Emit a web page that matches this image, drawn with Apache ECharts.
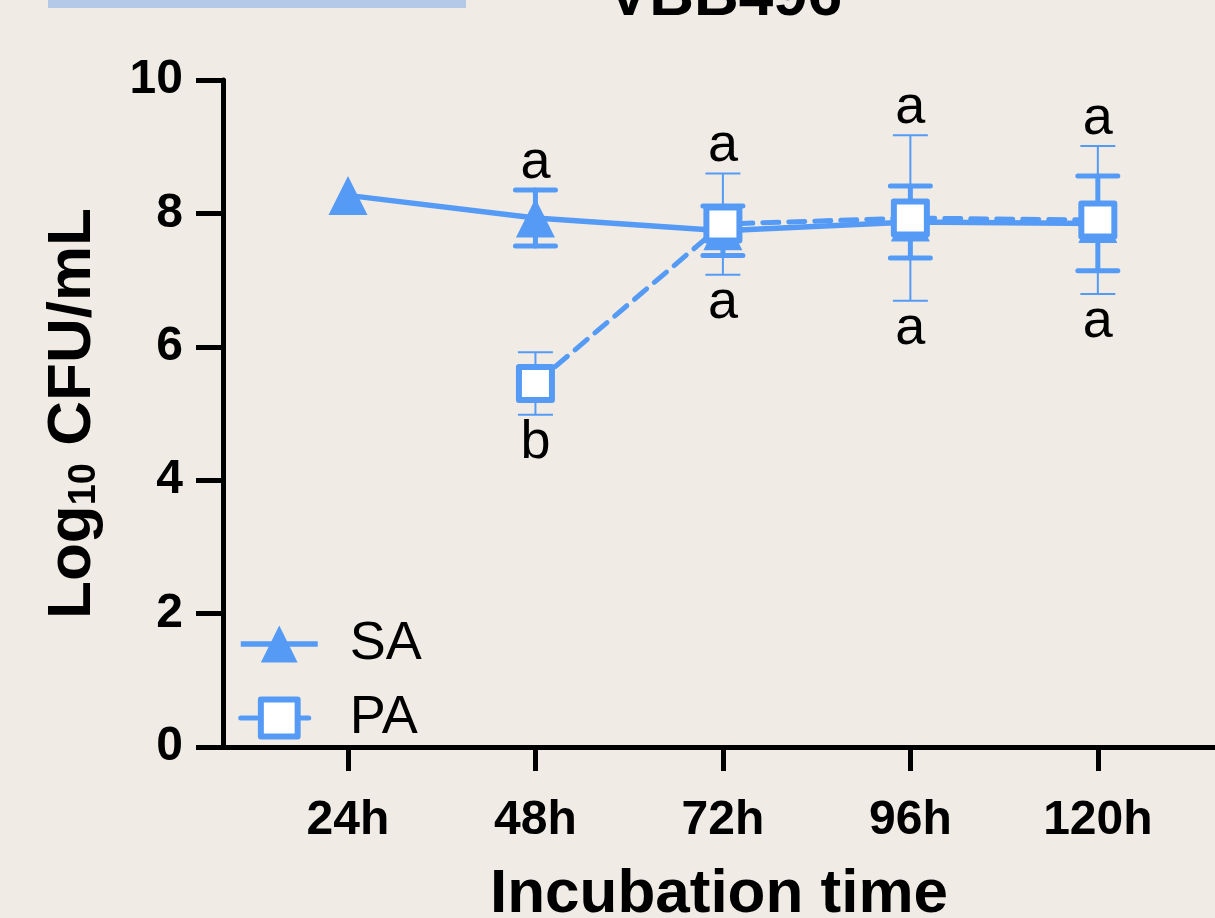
<!DOCTYPE html>
<html>
<head>
<meta charset="utf-8">
<script src="https://cdn.jsdelivr.net/npm/echarts@6/dist/echarts.min.js"></script>
<style>
  html, body { margin: 0; padding: 0; background: #f0ece5; }
  #chart { width: 1215px; height: 918px; }
</style>
</head>
<body>
<div id="chart"></div>
<script>
// incubation times (h)
const times = [24, 48, 72, 96, 120]
const saMean = [8.27, 7.93, 7.74, 7.87, 7.85]
const saErr = [0, 0.42, 0.37, 0.54, 0.71]
const paMean = [null, 5.45, 7.84, 7.93, 7.90]
const paErr = [null, 0.47, 0.76, 1.24, 1.11]
const lettersTop = ['', 'a', 'a', 'a', 'a']
const lettersBottom = ['', 'b', 'a', 'a', 'a']

const blue = '#559bf5'
const font = '"Liberation Sans", Arial, Helvetica, sans-serif'

const chart = echarts.init(document.getElementById('chart'))

const pairs = (means) => times.map((t, i) => [t, means[i]]).filter(d => d[1] != null)

const errData = (means, errs) => times
  .map((t, i) => [t, means[i] - errs[i], means[i] + errs[i], errs[i]])
  .filter(d => d[3])

// letter anchors: highest upper cap and lowest lower cap per time point
const letterData = times.map((t, i) => {
  const highs = [saMean[i] + saErr[i]]
  const lows = [saMean[i] - saErr[i]]
  if (paMean[i] != null) {
    highs.push(paMean[i] + paErr[i])
    lows.push(paMean[i] - paErr[i])
  }
  return [t, Math.max(...highs), Math.min(...lows), lettersTop[i], lettersBottom[i]]
})

const errorBar = (capHalf, width, cap) => (params, api) => {
  const x = api.value(0)
  const lo = api.coord([x, api.value(1)])
  const hi = api.coord([x, api.value(2)])
  const style = { stroke: blue, lineWidth: width, lineCap: cap, fill: null }
  return {
    type: 'group',
    children: [
      { type: 'line', shape: { x1: lo[0], y1: lo[1], x2: hi[0], y2: hi[1] }, style },
      { type: 'line', shape: { x1: hi[0] - capHalf, y1: hi[1], x2: hi[0] + capHalf, y2: hi[1] }, style },
      { type: 'line', shape: { x1: lo[0] - capHalf, y1: lo[1], x2: lo[0] + capHalf, y2: lo[1] }, style }
    ]
  }
}

const renderLetters = (params, api) => {
  const x = api.value(0)
  const top = api.coord([x, api.value(1)])
  const bottom = api.coord([x, api.value(2)])
  const textStyle = (txt) => ({
    text: txt, fill: '#000', font: '54px ' + font, align: 'center', verticalAlign: 'middle'
  })
  return {
    type: 'group',
    children: [
      { type: 'text', x: top[0], y: top[1] - 27, style: textStyle(api.value(3)) },
      { type: 'text', x: bottom[0], y: bottom[1] + 28, style: textStyle(api.value(4)) }
    ]
  }
}

const saLine = { color: blue, width: 5.5 }
const paLine = { color: blue, width: 5, type: [16, 10], cap: 'round' }
const paItem = { color: '#fff', borderColor: blue, borderWidth: 6, borderJoin: 'round' }

const option = {
  backgroundColor: '#f0ece5',
  animation: false,
  graphic: [
    { type: 'rect', shape: { x: 48, y: 0, width: 418, height: 8 }, style: { fill: '#b4c8e8' } },
    {
      type: 'text', x: 725, y: -2,
      style: { text: 'VBB496', fill: '#000', font: 'bold 62px ' + font, align: 'center', verticalAlign: 'middle' }
    }
  ],
  grid: { left: 223, right: 0, top: 80, bottom: 171, outerBoundsMode: 'none', containLabel: false },
  legend: {
    orient: 'vertical',
    left: 233,
    top: 612,
    data: [
      { name: 'SA', lineStyle: saLine, itemStyle: { color: blue } },
      { name: 'PA', lineStyle: paLine, itemStyle: paItem }
    ],
    itemWidth: 77,
    itemHeight: 46,
    itemGap: 20,
    textStyle: { fontFamily: font, fontSize: 54, color: '#000', lineHeight: 46, padding: [0, 0, 0, 27] }
  },
  xAxis: {
    type: 'value',
    min: 8,
    max: 135,
    name: 'Incubation time',
    nameLocation: 'middle',
    nameGap: 117,
    nameTextStyle: { fontFamily: font, fontSize: 62, fontWeight: 'bold', color: '#000' },
    axisLine: { onZero: false, lineStyle: { color: '#000', width: 5 } },
    axisTick: { length: 24, customValues: times, lineStyle: { color: '#000', width: 5 } },
    axisLabel: {
      customValues: times,
      margin: 50,
      formatter: v => v + 'h',
      fontFamily: font, fontSize: 48, fontWeight: 'bold', color: '#000'
    },
    splitLine: { show: false }
  },
  yAxis: {
    type: 'value',
    min: 0,
    max: 10,
    interval: 2,
    name: '{b|Log}{s|10}{b| CFU/mL}',
    nameLocation: 'middle',
    nameGap: 119,
    nameTextStyle: {
      rich: {
        b: { fontFamily: font, fontSize: 62, fontWeight: 'bold', color: '#000', lineHeight: 62 },
        s: { fontFamily: font, fontSize: 38, fontWeight: 'bold', color: '#000', lineHeight: 38, verticalAlign: 'bottom' }
      }
    },
    axisLine: { show: true, lineStyle: { color: '#000', width: 5 } },
    axisTick: { show: true, length: 27, lineStyle: { color: '#000', width: 5 } },
    axisLabel: { margin: 40, fontFamily: font, fontSize: 48, fontWeight: 'bold', color: '#000' },
    splitLine: { show: false }
  },
  series: [
    {
      name: 'SA err',
      type: 'custom',
      z: 2,
      renderItem: errorBar(20, 5, 'round'),
      data: errData(saMean, saErr)
    },
    {
      name: 'SA',
      type: 'line',
      z: 3,
      data: pairs(saMean),
      symbol: 'triangle',
      symbolSize: 39,
      lineStyle: saLine,
      itemStyle: { color: blue }
    },
    {
      name: 'PA err',
      type: 'custom',
      z: 4,
      renderItem: errorBar(17.5, 2, 'butt'),
      data: errData(paMean, paErr)
    },
    {
      name: 'PA',
      type: 'line',
      z: 5,
      data: pairs(paMean),
      symbol: 'rect',
      symbolSize: 33,
      lineStyle: paLine,
      itemStyle: paItem
    },
    {
      name: 'letters',
      type: 'custom',
      z: 6,
      renderItem: renderLetters,
      data: letterData
    }
  ]
}

chart.setOption(option)
</script>
</body>
</html>
